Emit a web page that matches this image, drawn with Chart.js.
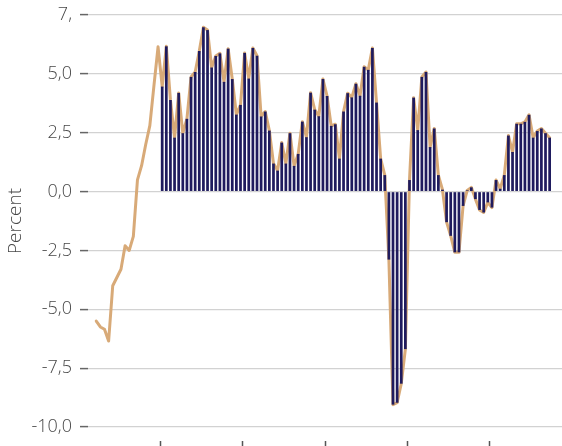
<!DOCTYPE html>
<html>
<head>
<meta charset="utf-8">
<script src="https://cdn.jsdelivr.net/npm/chart.js@4.4.1/dist/chart.umd.min.js"></script>
<style>
  html, body { margin: 0; padding: 0; background: #fff; }
  #wrap { width: 562px; height: 446px; position: relative; }
</style>
</head>
<body>
<div id="wrap"><canvas id="chart"></canvas></div>
<script>
// quarterly change, percent (line starts 16 quarters before the bars)
const leadValues = [-5.5, -5.75, -5.85, -6.35, -4.0, -3.65, -3.3, -2.3,
  -2.5, -1.9, 0.5, 1.1, 2.0, 2.8, 4.5, 6.15];

const barValues = [
  4.46, 6.17, 3.89, 2.29, 4.19, 2.48, 3.09, 4.87, 5.08, 5.97,
  6.98, 6.86, 5.27, 5.76, 5.87, 4.66, 6.07, 4.78, 3.27, 3.68,
  5.89, 4.80, 6.10, 5.77, 3.19, 3.40, 2.59, 1.19, 0.89, 2.08,
  1.19, 2.48, 1.09, 1.60, 2.97, 2.31, 4.20, 3.48, 3.20, 4.78,
  4.06, 2.79, 2.86, 1.40, 3.40, 4.18, 4.00, 4.58, 4.07, 5.30,
  5.17, 6.10, 3.78, 1.40, 0.70, -2.89, -9.05, -8.97, -8.16, -6.69,
  0.49, 3.99, 2.61, 4.87, 5.08, 1.89, 2.68, 0.70, 0.08, -1.30,
  -1.88, -2.58, -2.58, -0.61, 0.05, 0.18, -0.32, -0.78, -0.89, -0.46,
  -0.68, 0.49, 0.12, 0.70, 2.38, 1.68, 2.88, 2.88, 2.96, 3.26,
  2.29, 2.57, 2.68, 2.48, 2.29
];

const yTicks = [-10, -7.5, -5, -2.5, 0, 2.5, 5, 7.5];
const yTickLabels = ["-10,0", "-7,5", "-5,0", "-2,5", "0,0", "2,5", "5,0", "7,"];

// empty slots at both ends so the plot lines up with the frame
const padBefore = 2;
const padAfter = 3;
const firstYear = 1991;
const tickEvery = 20; // x tick mark every 5 years

var labels = [];
var lineData = [];
var barData = [];
const total = padBefore + leadValues.length + barValues.length + padAfter;
for (var k = 0; k < total; k++) {
  var q = k - padBefore; // quarter index from first line point
  labels.push((firstYear + Math.floor(q / 4)) + "K" + (((q % 4) + 4) % 4 + 1));
  var li = k - padBefore;
  if (li >= 0 && li < leadValues.length) {
    lineData.push(leadValues[li]);
  } else if (li >= leadValues.length && li < leadValues.length + barValues.length) {
    lineData.push(barValues[li - leadValues.length]);
  } else {
    lineData.push(null);
  }
  var bi = k - padBefore - leadValues.length;
  barData.push(bi >= 0 && bi < barValues.length ? barValues[bi] : null);
}

const textColor = "#474747";
const font = { family: "'Open Sans', sans-serif", size: 18, weight: 300 };

new Chart(document.getElementById("chart"), {
  type: "bar",
  data: {
    labels: labels,
    datasets: [
      {
        type: "bar",
        data: barData,
        backgroundColor: "#1f1b5e",
        barPercentage: 0.66,
        categoryPercentage: 1,
        order: 0,
      },
      {
        type: "line",
        data: lineData,
        borderColor: "#d8aa78",
        borderWidth: 3,
        borderJoinStyle: "round",
        borderCapStyle: "round",
        pointRadius: 0,
        tension: 0,
        spanGaps: false,
        order: 1,
      },
    ],
  },
  options: {
    responsive: true,
    maintainAspectRatio: false,
    animation: false,
    layout: { padding: { top: 15, left: 0, right: 0, bottom: 0 } },
    plugins: { legend: { display: false }, tooltip: { enabled: false } },
    scales: {
      x: {
        offset: false,
        border: { display: false },
        grid: {
          offset: true,
          drawOnChartArea: false,
          tickLength: 19,
          tickColor: function (ctx) {
            var i = ctx.index - padBefore - leadValues.length;
            return i >= 0 && i % tickEvery === 0 ? "#555555" : "rgba(0,0,0,0)";
          },
          tickWidth: 1.5,
          tickBorderDash: [0, 14, 5, 40],
        },
        ticks: {
          autoSkip: false,
          maxRotation: 0,
          callback: function () {
            return "";
          },
        },
        afterFit: function (scale) {
          scale.height = 19;
          scale.paddingLeft = 0;
          scale.paddingRight = 0;
        },
      },
      y: {
        min: -10,
        max: 7.5,
        border: { display: false },
        grid: {
          color: "#d2d2d2",
          lineWidth: 1.2,
          tickLength: 8,
          tickColor: "#666666",
          tickWidth: 1.5,
        },
        afterBuildTicks: function (scale) {
          scale.ticks = yTicks.map((v) => ({ value: v }));
        },
        ticks: {
          color: textColor,
          font: font,
          padding: 8,
          callback: function (val) {
            var i = yTicks.indexOf(val);
            return i >= 0 ? yTickLabels[i] : "";
          },
        },
        title: {
          display: true,
          text: "Percent",
          color: textColor,
          font: { family: "'Open Sans', sans-serif", size: 19, weight: 300 },
          padding: { top: 4, bottom: 4 },
        },
        afterFit: function (scale) {
          scale.width = 88;
          scale.paddingTop = 0;
          scale.paddingBottom = 0;
        },
      },
    },
  },
});
</script>
</body>
</html>
